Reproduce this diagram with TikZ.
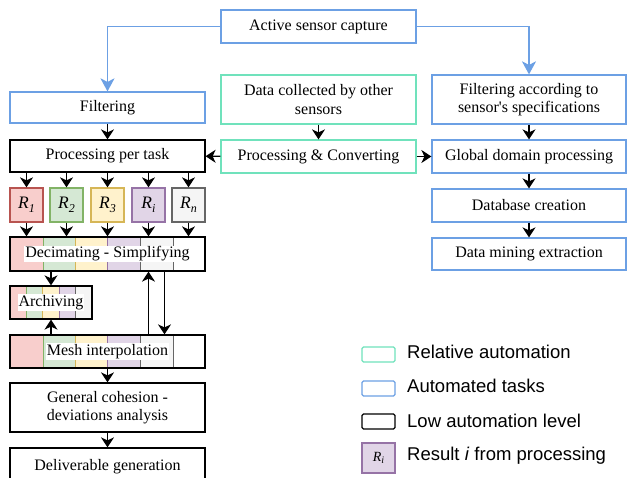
\documentclass[tikz,border=0pt]{standalone}
\usepackage{fontspec}
\setmainfont{Liberation Serif}
\newfontfamily\legendfont{Liberation Sans}
\usetikzlibrary{arrows.meta,calc}

\definecolor{autoblue}{RGB}{108,160,228}
\definecolor{relgreen}{RGB}{112,226,188}
\definecolor{redF}{HTML}{F8CECC}\definecolor{redD}{HTML}{B85450}
\definecolor{grnF}{HTML}{D5E8D4}\definecolor{grnD}{HTML}{82B366}
\definecolor{yelF}{HTML}{FFF2CC}\definecolor{yelD}{HTML}{D6B656}
\definecolor{purF}{HTML}{E1D5E7}\definecolor{purD}{HTML}{9673A6}
\definecolor{gryF}{HTML}{F5F5F5}\definecolor{gryD}{HTML}{666666}

\newcommand{\bodyfs}{\fontsize{16}{18.5}\selectfont}
\newcommand{\rlabel}[1]{{\fontsize{17.5}{18}\selectfont\itshape R\raisebox{-3.5pt}{\fontsize{12}{12}\selectfont #1}}}

\begin{document}
\begin{tikzpicture}[x=1pt,y=-1pt,
  base/.style={draw, line width=1.2pt, fill=white, inner sep=2pt, align=center, font=\bodyfs},
  lowbox/.style={base, draw=black},
  autobox/.style={base, draw=autoblue},
  relbox/.style={base, draw=relgreen},
  stripbox/.style={lowbox, fill=none},
  stripmark/.style={fill=white, inner sep=1pt, font=\bodyfs},
  rbox/.style={draw, line width=1.3pt, minimum width=33pt, minimum height=34pt, inner sep=0pt},
  arr/.style={line width=1.2pt, -{Stealth[length=10pt, width=13pt, inset=3pt]}},
  barr/.style={line width=1.4pt, draw=autoblue, -{Stealth[length=13pt, width=14pt, inset=3.5pt]}},
  legbox/.style={draw, line width=1.2pt, fill=white, rounded corners=1.5pt, minimum width=33pt, minimum height=15pt, inner sep=0pt},
  legtext/.style={anchor=west, font=\legendfont\fontsize{18.5}{20}\selectfont, inner sep=0pt}
]
\useasboundingbox (0,0) rectangle (627,478);

% ---- top and right column ----
\node[autobox, minimum width=195pt, minimum height=33pt] (act) at (318.5,26.5) {Active sensor capture};
\node[autobox, minimum width=195pt, minimum height=31pt] (filt) at (107.5,107.5) {Filtering};
\node[relbox, minimum width=195pt, minimum height=49pt] (data) at (318.5,99.5) {Data collected by other\\sensors};
\node[autobox, minimum width=194pt, minimum height=49pt] (spec) at (529,99.5) {Filtering according to\\sensor\textquotesingle s specifications};
\node[relbox, minimum width=195pt, minimum height=33pt] (pc) at (318.5,156.5) {Processing \& Converting};
\node[lowbox, minimum width=195pt, minimum height=32pt] (ppt) at (107.5,156) {Processing per task};
\node[autobox, minimum width=194pt, minimum height=33pt] (glob) at (529,156.5) {Global domain processing};
\node[autobox, minimum width=194pt, minimum height=33pt] (db) at (529,205.5) {Database creation};
\node[autobox, minimum width=194pt, minimum height=32pt] (dm) at (529,254) {Data mining extraction};

% ---- per-task results ----
\node[rbox, fill=redF, draw=redD] (r1) at (26.5,205) {\rlabel{1}};
\node[rbox, fill=grnF, draw=grnD] (r2) at (66.5,205) {\rlabel{2}};
\node[rbox, fill=yelF, draw=yelD] (r3) at (107.5,205) {\rlabel{3}};
\node[rbox, fill=purF, draw=purD] (ri) at (148.5,205) {\rlabel{i}};
\node[rbox, fill=gryF, draw=gryD] (rn) at (188.5,205) {\rlabel{n}};

% ---- colour strips inside the shared boxes ----
\foreach \y/\h in {237/271, 335/368}{
  \filldraw[fill=redF, draw=redD, line width=0.8pt] (10,\y) rectangle (43,\h);
  \filldraw[fill=grnF, draw=grnD, line width=0.8pt] (43,\y) rectangle (75,\h);
  \filldraw[fill=yelF, draw=yelD, line width=0.8pt] (75,\y) rectangle (107,\h);
  \filldraw[fill=purF, draw=purD, line width=0.8pt] (107,\y) rectangle (140,\h);
  \filldraw[fill=gryF, draw=gryD, line width=0.8pt] (140,\y) rectangle (173,\h);
}
\filldraw[fill=redF, draw=redD, line width=0.8pt] (10,286) rectangle (26.4,319);
\filldraw[fill=grnF, draw=grnD, line width=0.8pt] (26.4,286) rectangle (42.8,319);
\filldraw[fill=yelF, draw=yelD, line width=0.8pt] (42.8,286) rectangle (59.2,319);
\filldraw[fill=purF, draw=purD, line width=0.8pt] (59.2,286) rectangle (75.6,319);
\filldraw[fill=gryF, draw=gryD, line width=0.8pt] (75.6,286) rectangle (92,319);

\node[stripbox, minimum width=195pt, minimum height=34pt] (dec) at (107.5,254) {};
\node[stripmark] at (dec.center) {Decimating - Simplifying};
\node[stripbox, minimum width=82pt, minimum height=33pt] (arch) at (51,302.5) {};
\node[stripmark] at (arch.center) {Archiving};
\node[stripbox, minimum width=195pt, minimum height=33pt] (mesh) at (107.5,351.5) {};
\node[stripmark] at (mesh.center) {Mesh interpolation};

\node[lowbox, minimum width=195pt, minimum height=49pt] (gen) at (107.5,407.5) {General cohesion -\\deviations analysis};
\node[lowbox, minimum width=195pt, minimum height=37pt] (deliv) at (107.5,466.5) {Deliverable generation};

% ---- connectors ----
\draw[barr] (act.west) -| (filt.north);
\draw[barr] (act.east) -| (spec.north);
\draw[arr] (filt) -- (ppt);
\draw[arr] (data) -- (pc);
\draw[arr] (pc) -- (ppt);
\draw[arr] (pc) -- (glob);
\draw[arr] (spec) -- (glob);
\draw[arr] (glob) -- (db);
\draw[arr] (db) -- (dm);
\foreach \r in {r1,r2,r3,ri,rn}{
  \draw[arr] (\r.north |- ppt.south) -- (\r.north);
  \draw[arr] (\r.south) -- (\r.south |- dec.north);
}
\draw[arr] (arch.north |- dec.south) -- (arch.north);
\draw[arr] (arch.south |- mesh.north) -- (arch.south);
\draw[arr] ([xshift=41pt]mesh.north) -- ([xshift=41pt]dec.south);
\draw[arr] ([xshift=57pt]dec.south) -- ([xshift=57pt]mesh.north);
\draw[arr] (mesh) -- (gen);
\draw[arr] (gen) -- (deliv);

% ---- legend ----
\node[legbox, draw=relgreen] (lg1) at (378.5,354.5) {};
\node[legbox, draw=autoblue] (lg2) at (378.5,388.5) {};
\node[legbox, draw=black] (lg3) at (378.5,421.5) {};
\node[legbox, draw=purD, fill=purF, minimum height=30pt, rounded corners=0pt] (lg4) at (378.5,458) {{\fontsize{14}{14}\selectfont\itshape R\raisebox{-2.5pt}{\fontsize{10}{10}\selectfont i}}};
\node[legtext] at (407,352) {Relative automation};
\node[legtext] at (407,386) {Automated tasks};
\node[legtext] at (407,421) {Low automation level};
\node[legtext] at (407,456) {Result \textit{i} from processing};
\end{tikzpicture}
\end{document}
